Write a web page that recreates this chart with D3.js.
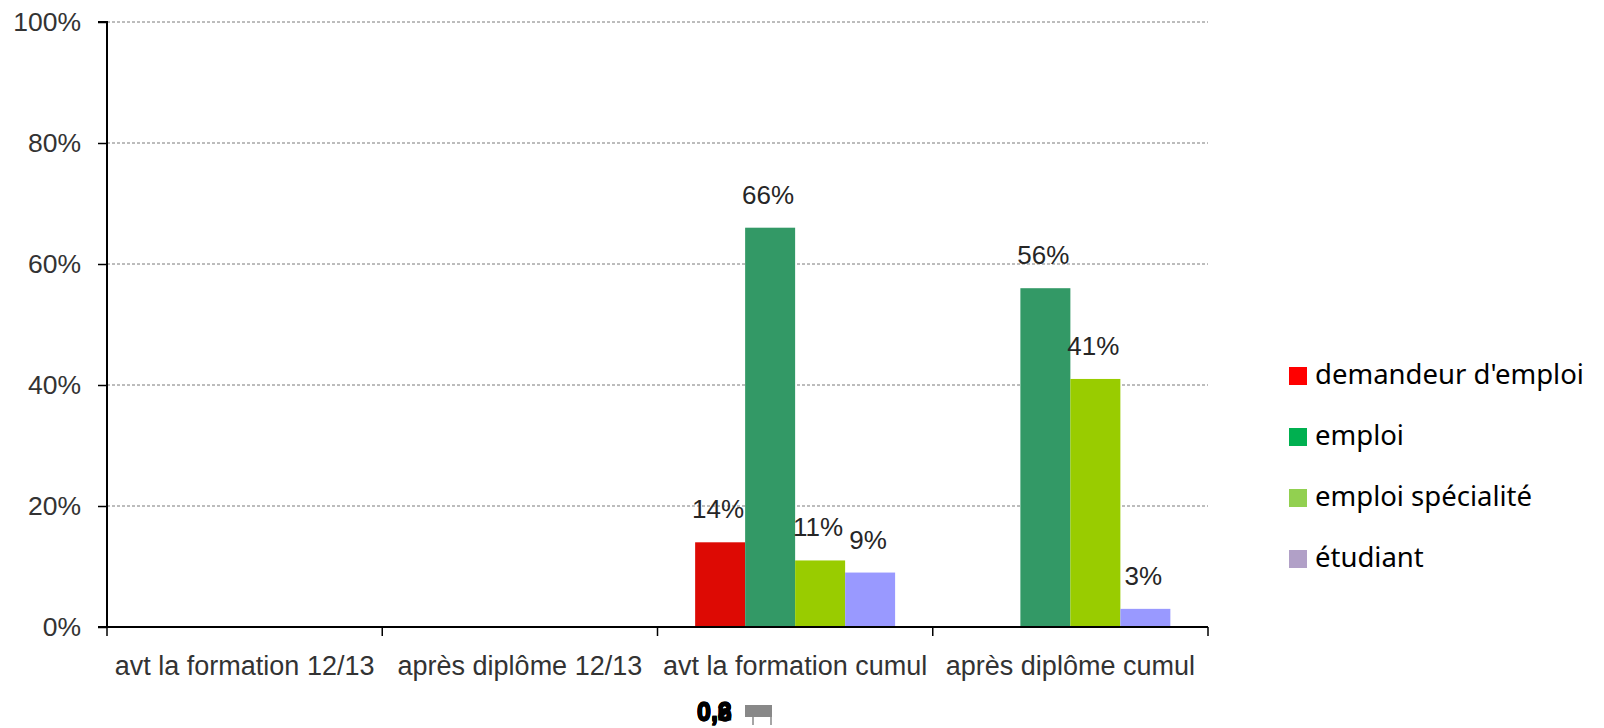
<!DOCTYPE html>
<html>
<head>
<meta charset="utf-8">
<script src="https://cdn.jsdelivr.net/npm/d3@7"></script>
<style>
  html, body { margin: 0; padding: 0; background: #fff; }
  svg { display: block; }
</style>
</head>
<body>
<svg id="chart" width="1604" height="728"></svg>
<script>
// ---- data ----
const categories = ["avt la formation 12/13", "après diplôme 12/13", "avt la formation cumul", "après diplôme cumul"];
const seriesNames = ["demandeur d'emploi", "emploi", "emploi spécialité", "étudiant"];
const demandeurValues = [null, null, 14, null];
const emploiValues = [null, null, 66, 56];
const specialiteValues = [null, null, 11, 41];
const etudiantValues = [null, null, 9, 3];
const yTicks = [0, 20, 40, 60, 80, 100];
const strayLabels = ["0,2", "0,3", "0,6", "0,8"];

const seriesValues = [demandeurValues, emploiValues, specialiteValues, etudiantValues];
const barColors = ["#dd0a04", "#339966", "#99cc00", "#9999ff"];
const legendColors = ["#ff0000", "#00b050", "#92d050", "#b1a0c7"];

const svg = d3.select("#chart");
const plotLeft = 107, plotRight = 1208, plotTop = 22, plotBottom = 627;

const x = d3.scaleBand().domain(categories).range([plotLeft, plotRight]).paddingInner(0).paddingOuter(0);
const xs = d3.scaleBand().domain(seriesNames).range([0, x.bandwidth()]).paddingInner(0).paddingOuter(0.753);
const y = d3.scaleLinear().domain([0, 100]).range([plotBottom, plotTop]);

// grid lines
svg.append("g").selectAll("line").data(yTicks.filter(d => d > 0)).join("line")
  .attr("x1", plotLeft).attr("x2", plotRight)
  .attr("y1", d => y(d)).attr("y2", d => y(d))
  .attr("stroke", "#7a7a7a").attr("stroke-width", 1)
  .attr("stroke-dasharray", "3,2");

// bars
const barData = [];
seriesNames.forEach((s, si) => {
  categories.forEach((c, ci) => {
    const v = seriesValues[si][ci];
    if (v !== null) barData.push({ s, c, v, si });
  });
});

svg.append("g").selectAll("rect").data(barData).join("rect")
  .attr("x", d => x(d.c) + xs(d.s))
  .attr("width", xs.bandwidth())
  .attr("y", d => y(d.v))
  .attr("height", d => y(0) - y(d.v))
  .attr("fill", d => barColors[d.si]);

// data labels
svg.append("g").selectAll("text").data(barData).join("text")
  .attr("x", d => x(d.c) + xs(d.s) + xs.bandwidth() / 2 - 2)
  .attr("y", d => y(d.v) - 24)
  .attr("text-anchor", "middle")
  .attr("font-family", "Liberation Sans, Arial, sans-serif")
  .attr("font-size", 26)
  .attr("fill", "#262626")
  .text(d => d.v + "%");

// y axis
const yAxis = d3.axisLeft(y).tickValues(yTicks).tickFormat(d => d + "%").tickSize(9).tickPadding(17);
const gy = svg.append("g").attr("transform", `translate(${plotLeft},0)`).call(yAxis);
gy.select(".domain").attr("stroke", "#000").attr("stroke-width", 2).attr("d", `M-9,${plotTop}H0V${plotBottom}H-9`);
gy.selectAll(".tick line").attr("stroke", "#000").attr("stroke-width", 1.5);
gy.selectAll(".tick text")
  .attr("font-family", "Liberation Sans, Arial, sans-serif")
  .attr("font-size", 26.5).attr("fill", "#333");

// x axis
const xAxis = d3.axisBottom(x).tickSize(0).tickPadding(29);
const gx = svg.append("g").attr("transform", `translate(0,${plotBottom})`).call(xAxis);
gx.select(".domain").attr("stroke", "#000").attr("stroke-width", 2).attr("d", `M${plotLeft},0H${plotRight}`);
gx.selectAll(".tick text")
  .attr("font-family", "Liberation Sans, Arial, sans-serif")
  .attr("font-size", 27).attr("fill", "#333");
// boundary ticks
const bounds = categories.map(c => x(c)).concat([x(categories[categories.length - 1]) + x.bandwidth()]);
gx.append("g").selectAll("line").data(bounds).join("line")
  .attr("x1", d => d).attr("x2", d => d)
  .attr("y1", 0).attr("y2", 9)
  .attr("stroke", "#000").attr("stroke-width", 1.5);

// legend
const lg = svg.append("g");
seriesNames.forEach((s, i) => {
  const yy = 367 + i * 61;
  lg.append("rect").attr("x", 1289).attr("y", yy).attr("width", 18).attr("height", 18).attr("fill", legendColors[i]);
  lg.append("text").attr("x", 1315).attr("y", yy + 17)
    .attr("font-family", "Noto Sans, Open Sans, sans-serif")
    .attr("font-size", 27.5).attr("fill", "#000")
    .text(s);
});

// stray overlapping labels at bottom
const sg = svg.append("g");
strayLabels.forEach((t, i) => {
  sg.append("text").attr("x", 697).attr("y", 720 + (i % 2))
    .attr("font-family", "Liberation Sans, Arial, sans-serif")
    .attr("font-weight", "bold").attr("font-size", 25)
    .attr("fill", "#000").attr("stroke", "#000").attr("stroke-width", 0.8)
    .text(t);
});
sg.append("rect").attr("x", 745).attr("y", 705).attr("width", 27).attr("height", 12).attr("fill", "#888");
sg.append("line").attr("x1", 753).attr("x2", 753).attr("y1", 717).attr("y2", 725).attr("stroke", "#888").attr("stroke-width", 1.5);
sg.append("line").attr("x1", 771).attr("x2", 771).attr("y1", 717).attr("y2", 725).attr("stroke", "#888").attr("stroke-width", 1.5);
</script>
</body>
</html>
